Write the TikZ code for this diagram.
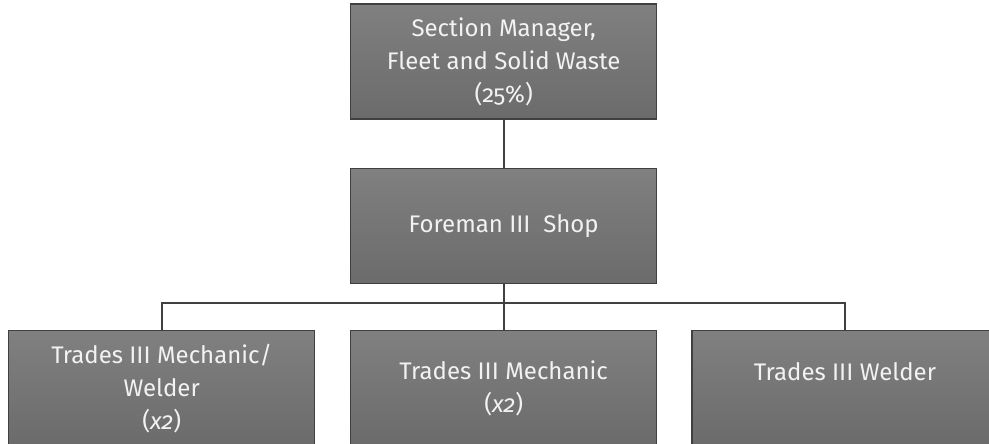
\documentclass[tikz,border=0pt]{standalone}
\usepackage{fontspec}
\setmainfont{Fira Sans}[Numbers=OldStyle]
\definecolor{boxtop}{HTML}{808080}
\definecolor{boxbottom}{HTML}{6B6B6B}
\definecolor{boxline}{HTML}{404040}
\definecolor{linecol}{HTML}{404040}
\definecolor{labeltext}{HTML}{F2F2F2}
\begin{document}
\begin{tikzpicture}[x=1pt,y=-1pt,
  rolebox/.style={draw=boxline, line width=1.4pt, top color=boxtop,
    bottom color=boxbottom, minimum width=306pt, minimum height=115pt,
    text=labeltext, align=center, inner sep=0pt,
    font=\fontsize{24}{33}\selectfont},
  link/.style={draw=linecol, line width=2pt}]
\useasboundingbox (0,0) rectangle (989,444);
\clip (0,0) rectangle (989,444);

% management chain
\node[rolebox] (mgr)  at (503.7, 61.5)  {Section Manager,\\Fleet and Solid Waste\\(25\%)};
\node[rolebox] (fore) at (503.7, 225.8) {Foreman III\ \ Shop};

% trades staff
\node[rolebox] (mechweld) at (161.7, 388.2) {Trades III Mechanic/\\Welder\\(\textit{x2})};
\node[rolebox] (mech)     at (503.7, 388.2) {Trades III Mechanic\\(\textit{x2})};
\node[rolebox] (weld)     at (845.0, 388.2) {Trades III Welder\\\mbox{}};

% reporting lines
\coordinate (junction) at (503.7, 302.7);
\draw[link] (mgr.south) -- (fore.north);
\draw[link] (fore.south) -- (mech.north);
\draw[link] (junction) -| (mechweld.north);
\draw[link] (junction) -| (weld.north);
\end{tikzpicture}
\end{document}
